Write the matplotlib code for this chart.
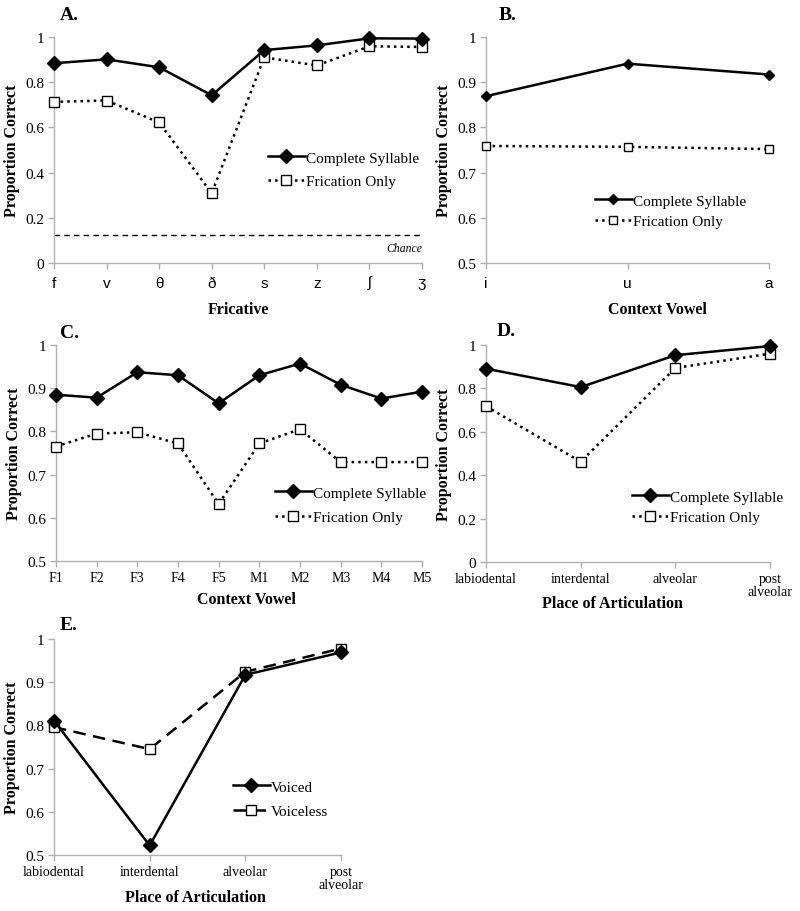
import matplotlib
matplotlib.use('Agg')
import matplotlib.pyplot as plt

W, H = 800, 912
SERIF = ['Liberation Serif', 'DejaVu Serif']
SANS = ['Liberation Sans', 'DejaVu Sans']
SPINE = '#b0b0b0'

# panel A: fricatives
fricatives = ['f', 'v', 'θ', 'ð', 's', 'z', 'ʃ', 'ʒ']
a_complete = [0.884, 0.901, 0.866, 0.742, 0.942, 0.963, 0.994, 0.993]
a_frication = [0.713, 0.719, 0.622, 0.309, 0.910, 0.874, 0.959, 0.956]
chance = 0.125

# panel B: context vowel
vowels = ['i', 'u', 'a']
b_complete = [0.869, 0.941, 0.917]
b_frication = [0.759, 0.757, 0.752]

# panel C: talkers
talkers = ['F1', 'F2', 'F3', 'F4', 'F5', 'M1', 'M2', 'M3', 'M4', 'M5']
c_complete = [0.885, 0.878, 0.937, 0.930, 0.865, 0.930, 0.957, 0.908, 0.876, 0.892]
c_frication = [0.765, 0.795, 0.798, 0.772, 0.632, 0.772, 0.805, 0.729, 0.729, 0.729]

# panel D / E: place of articulation
places = ['labiodental', 'interdental', 'alveolar', 'post\nalveolar']
d_complete = [0.891, 0.806, 0.953, 0.995]
d_frication = [0.718, 0.462, 0.894, 0.960]
e_voiced = [0.811, 0.522, 0.917, 0.969]
e_voiceless = [0.796, 0.745, 0.924, 0.978]

fig = plt.figure(figsize=(W / 100, H / 100), dpi=100)


def px_axes(left, right, top, bottom):
    return fig.add_axes([left / W, 1 - bottom / H, (right - left) / W, (bottom - top) / H])


def style(ax, cats, ylim, yticks, tickfont):
    n = len(cats)
    ax.set_xlim(0, n - 1)
    ax.set_ylim(*ylim)
    ax.set_xticks(range(n))
    ax.set_xticklabels(cats, family=tickfont, fontsize=11 if tickfont == SANS else 10)
    ax.set_yticks(yticks)
    ax.set_yticklabels(['%g' % v for v in yticks], family=SERIF, fontsize=11)
    for s in ['top', 'right']:
        ax.spines[s].set_visible(False)
    for s in ['left', 'bottom']:
        ax.spines[s].set_color(SPINE)
        ax.spines[s].set_linewidth(1)
    ax.tick_params(axis='both', color=SPINE, length=4, width=1, direction='out', pad=3)
    if tickfont == SANS:
        ax.tick_params(axis='x', pad=5)
    ax.set_ylabel('Proportion Correct', family=SERIF, fontsize=11.5, fontweight='bold', labelpad=4)
    for lab in ax.get_xticklabels() + ax.get_yticklabels():
        lab.set_clip_on(False)


def legend(ax, x, y, spacing):
    ax.legend(loc='upper left', bbox_to_anchor=(x / W, 1 - y / H), bbox_transform=fig.transFigure,
              frameon=False, prop={'family': SERIF, 'size': 11}, handlelength=2.4,
              handletextpad=0.1, labelspacing=spacing, borderpad=0, borderaxespad=0)


def plot_pair(ax, x, y1, y2, lab1, lab2, ls2=':', ms_d=7.5, ms_s=7.5):
    ax.plot(x, y1, color='black', lw=1.8, marker='D', ms=ms_d, mfc='black', mec='black',
            label=lab1, clip_on=False, zorder=4)
    ax.plot(x, y2, color='black', lw=1.8, ls=ls2, marker='s', ms=ms_s, mfc='white', mec='black',
            mew=1, label=lab2, clip_on=False, zorder=3)


# A
axA = px_axes(54, 422, 38, 264)
style(axA, fricatives, (0, 1), [0, 0.2, 0.4, 0.6, 0.8, 1], SANS)
plot_pair(axA, range(len(fricatives)), a_complete, a_frication, 'Complete Syllable', 'Frication Only')
axA.axhline(chance, color='black', lw=1, ls=(0, (4, 3)))
axA.text(1.0, chance - 0.03, 'Chance', transform=axA.get_yaxis_transform(), ha='right', va='top',
         family=SERIF, style='italic', fontsize=8.5)
legend(axA, 268, 152, 0.65)

# B
axB = px_axes(486, 769, 38, 264)
style(axB, vowels, (0.5, 1), [0.5, 0.6, 0.7, 0.8, 0.9, 1], SANS)
plot_pair(axB, range(len(vowels)), b_complete, b_frication, 'Complete Syllable', 'Frication Only',
          ms_d=5.5, ms_s=6)
legend(axB, 595, 195, 0.45)

# C
axC = px_axes(56, 422, 346, 562)
style(axC, talkers, (0.5, 1), [0.5, 0.6, 0.7, 0.8, 0.9, 1], SERIF)
plot_pair(axC, range(len(talkers)), c_complete, c_frication, 'Complete Syllable', 'Frication Only')
legend(axC, 275, 487, 0.72)

# D
axD = px_axes(486, 770, 346, 563)
style(axD, places, (0, 1), [0, 0.2, 0.4, 0.6, 0.8, 1], SERIF)
plot_pair(axD, range(len(places)), d_complete, d_frication, 'Complete Syllable', 'Frication Only')
legend(axD, 632, 491, 0.45)

# E
axE = px_axes(54, 341, 640, 856)
style(axE, places, (0.5, 1), [0.5, 0.6, 0.7, 0.8, 0.9, 1], SERIF)
plot_pair(axE, range(len(places)), e_voiced, e_voiceless, 'Voiced', 'Voiceless', ls2=(0, (5, 3)))
legend(axE, 233, 781, 0.72)

for ax in (axD, axE):
    for lab in ax.get_xticklabels():
        lab.set_linespacing(1.0)

# x-axis titles
xlabels = [(238, 310, 'Fricative'), (657, 310, 'Context Vowel'), (246, 600, 'Context Vowel'),
           (612, 604, 'Place of Articulation'), (195, 898, 'Place of Articulation')]
for x, y, t in xlabels:
    fig.text(x / W, 1 - y / H, t, ha='center', va='center', family=SERIF, fontsize=11.5,
             fontweight='bold')

# panel letters
letters = [(60, 16, 'A.'), (499, 16, 'B.'), (60, 334, 'C.'), (497, 332, 'D.'), (60, 625, 'E.')]
for x, y, t in letters:
    fig.text(x / W, 1 - y / H, t, ha='left', va='center', family=SERIF, fontsize=14,
             fontweight='bold')

fig.savefig('out.png', dpi=100, facecolor='white')
